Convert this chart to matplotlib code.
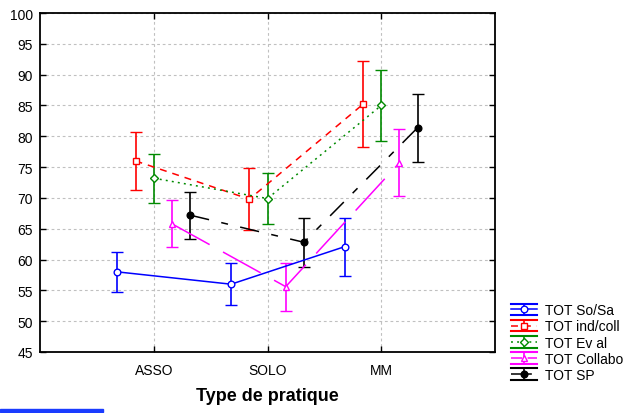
import matplotlib
matplotlib.use("Agg")
import matplotlib.pyplot as plt
import matplotlib.patches as patches
from matplotlib.lines import Line2D
from matplotlib.legend_handler import HandlerBase
from matplotlib.container import ErrorbarContainer
import numpy as np

plt.rcParams["font.family"] = ["Liberation Sans", "DejaVu Sans"]
plt.rcParams["lines.scale_dashes"] = False

# données (moyennes et demi-intervalles)
categories = ["ASSO", "SOLO", "MM"]
labels = ["TOT So/Sa", "TOT ind/coll", "TOT Ev al", "TOT Collabo", "TOT SP"]

so_sa_mean = [58.0, 56.0, 62.1]
so_sa_err = [3.2, 3.4, 4.7]
ind_coll_mean = [76.0, 69.8, 85.2]
ind_coll_err = [4.7, 5.0, 7.0]
eval_mean = [73.2, 69.9, 85.0]
eval_err = [4.0, 4.1, 5.7]
collabo_mean = [65.8, 55.6, 75.7]
collabo_err = [3.8, 3.9, 5.4]
sp_mean = [67.2, 62.8, 81.4]
sp_err = [3.8, 4.0, 5.5]

means = [so_sa_mean, ind_coll_mean, eval_mean, collabo_mean, sp_mean]
errs = [so_sa_err, ind_coll_err, eval_err, collabo_err, sp_err]

colors = ["#0000ff", "#ff0000", "#008a00", "#ff00ff", "#000000"]
markers = ["o", "s", "D", "^", "o"]
facecols = ["white", "white", "white", "white", "black"]
msizes = [4.8, 4.8, 4.3, 4.8, 4.8]
dashes = [None, (5, 4.3), (1.4, 3), (31, 11), (14, 9, 5, 9)]
legend_dashes = [None, (5, 4.3), (1.4, 3), (8, 4), (8, 4, 3, 4)]
offsets = [-0.32, -0.16, 0.0, 0.16, 0.32]


class CapHandler(HandlerBase):
    """poignée de légende façon Statistica : barres d'erreur pleine largeur"""

    def create_artists(self, legend, orig_handle, xdescent, ydescent,
                       width, height, fontsize, trans):
        line = orig_handle.lines[0]
        c = line.get_color()
        x0, x1 = -xdescent, -xdescent + width
        y0, y1 = -ydescent, -ydescent + height
        ym = (y0 + y1) / 2
        mid = Line2D([x0, x1], [ym, ym], color=c, lw=line.get_linewidth())
        d = getattr(orig_handle, "leg_dashes", None)
        if d is not None:
            mid.set_dashes(d)
        mark = Line2D([(x0 + x1) / 2], [ym], marker=line.get_marker(),
                      markersize=line.get_markersize(), color=c,
                      markerfacecolor=line.get_markerfacecolor(), lw=0)
        vert = Line2D([(x0 + x1) / 2] * 2, [y0, y1], color=c, lw=1.2)
        top = Line2D([x0, x1], [y1, y1], color=c, lw=1.5)
        bot = Line2D([x0, x1], [y0, y0], color=c, lw=1.5)
        arts = [mid, vert, top, bot, mark]
        for a in arts:
            a.set_transform(trans)
        return arts


fig = plt.figure(figsize=(6.27, 4.14), dpi=100)
ax = fig.add_axes([40 / 627, 1 - 353 / 414, 455 / 627, 339 / 414])

x = np.arange(1, len(categories) + 1)
handles = []
for i in range(len(labels)):
    eb = ax.errorbar(x + offsets[i], means[i], yerr=errs[i], color=colors[i],
                     lw=1.1, marker=markers[i], markersize=msizes[i],
                     markerfacecolor=facecols[i], markeredgewidth=1.0,
                     capsize=4.5, capthick=1.5, elinewidth=1.2, label=labels[i],
                     zorder=3)
    if dashes[i] is not None:
        eb.lines[0].set_dashes(dashes[i])
    eb.leg_dashes = legend_dashes[i]
    handles.append(eb)

ax.set_xlim(0, 4)
ax.set_ylim(45, 100)
ax.set_xticks(x)
ax.set_xticklabels(categories)
ax.set_yticks(np.arange(45, 101, 5))
ax.tick_params(direction="in", length=4, width=1, labelsize=10,
               top=True, right=True)
ax.tick_params(axis="x", pad=8)
ax.tick_params(axis="y", pad=5)
ax.grid(True, color="#c0c0c0", linestyle=(0, (2, 2)), linewidth=0.8)
ax.set_axisbelow(True)
for s in ax.spines.values():
    s.set_linewidth(1.3)

ax.set_xlabel("Type de pratique", fontsize=13, fontweight="bold", labelpad=7)

fig.legend(handles=handles, labels=labels, loc="lower left",
           bbox_to_anchor=(511 / 627, 1 - 383 / 414), frameon=False,
           fontsize=10, handlelength=1.85, handleheight=0.9,
           labelspacing=0.16, handletextpad=0.6, borderpad=0, borderaxespad=0,
           handler_map={ErrorbarContainer: CapHandler()})

# trait bleu en bas à gauche
fig.patches.append(patches.Rectangle((0, 1 / 414), 103 / 627, 3 / 414,
                                     transform=fig.transFigure,
                                     color="#1a3cff", zorder=5))

fig.savefig("out.png", dpi=100)
